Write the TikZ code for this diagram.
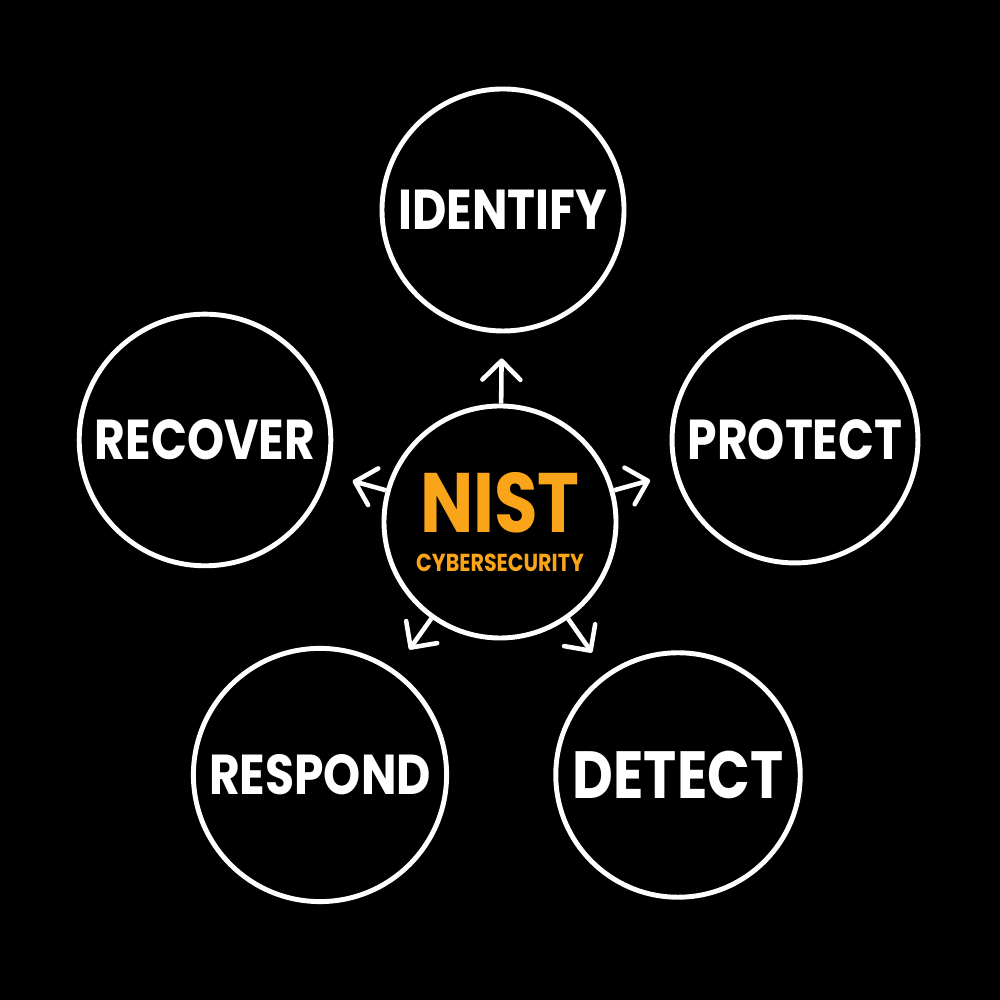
\documentclass[tikz,border=0pt]{standalone}
\usepackage{xcolor}
\usepackage{fontspec}
\usepackage{tikz}
\usetikzlibrary{positioning}
\usetikzlibrary{arrows.meta}
\newfontfamily\handfont{Poppins}[FakeStretch=0.84]
\definecolor{nistorange}{RGB}{250,165,25}
\tikzset{edge/.style = {-{Straight Barb[length=1.9mm,width=3.8mm,round]}, line width=1.3pt, white, shorten >=0.25cm}}

\begin{document}
\begin{tikzpicture}[auto,thick,main node/.style={circle,draw=white,line width=1.4pt,minimum size=2.42cm,text=white,font=\handfont\bfseries\fontsize{16}{18}\selectfont}]
                    \fill[black] (0,0) rectangle (10,10);
                    \node[main node, minimum size=2.32cm, inner sep=0pt, align=center, text=nistorange] (nist) at (5.0,4.78)
                      {{\fontsize{24}{24}\selectfont NIST}\\[-7pt]{\fontsize{7}{8}\selectfont CYBERSECURITY}};
                    \node[main node] (identify) at (5.03,7.9) {IDENTIFY};
                    \node[main node] (protect) at (7.95,5.6) {PROTECT};
                    \node[main node] (recover) at (2.05,5.6) {RECOVER};
                    \node[main node] (respond) at (3.2,2.25) {RESPOND};
                    \node[main node, font=\handfont\bfseries\fontsize{19}{21}\selectfont] (detect) at (6.78,2.25) {DETECT};

                    \draw[edge] (nist) -- (identify);
                    \draw[edge] (nist) -- (protect);
                    \draw[edge] (nist) -- (recover);
                    \draw[edge] (nist) -- (respond);
                    \draw[edge] (nist) -- (detect);
                \end{tikzpicture}
\end{document}
